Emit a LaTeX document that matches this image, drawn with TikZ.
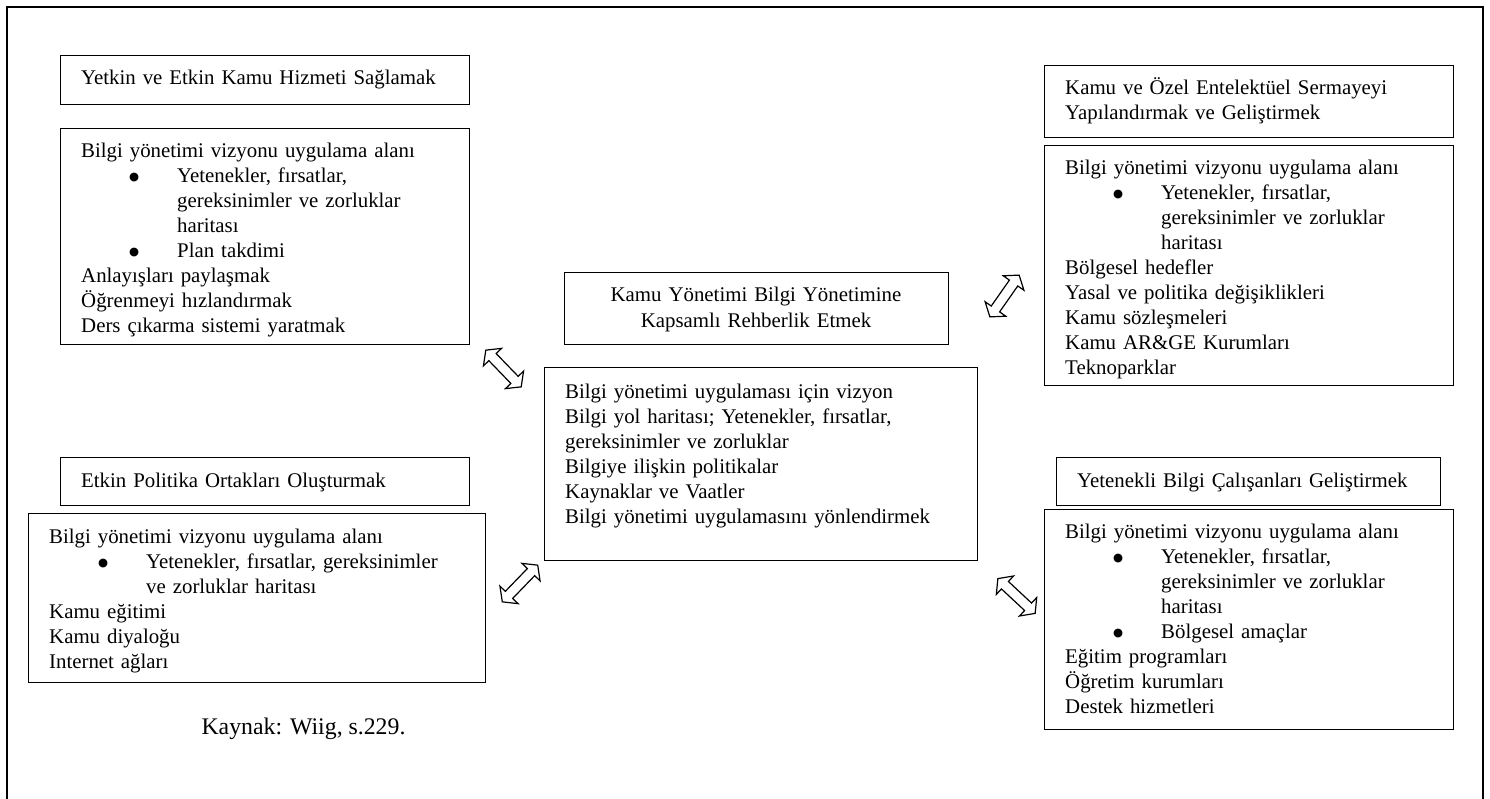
\documentclass[tikz,border=0pt]{standalone}
\usepackage{fontspec}
\setmainfont{Liberation Serif}
\newfontfamily\dejavu{DejaVu Sans}
\usetikzlibrary{shapes.arrows}

% bullet line with hanging indent
\newcommand{\nokta}{\raisebox{2pt}{\dejavu\fontsize{11.5}{12}\selectfont ●}}
\newcommand{\madde}[2][96]{\par\hangindent=#1pt\hangafter=1\makebox[#1pt][l]{\hspace*{\dimexpr#1pt-48pt\relax}\nokta}#2\par}

\tikzset{
  kutu/.style={draw, line width=1.2pt, rectangle, inner sep=0pt, anchor=north west},
  yazi/.style={inner sep=0pt, text width=440pt, align=left, anchor=base west,
    font=\fontsize{20.85}{25}\selectfont},
  okcift/.style={draw, line width=1.2pt, double arrow, inner sep=4.5pt, minimum height=51pt,
    double arrow head extend=7.5pt, double arrow tip angle=105, double arrow head indent=0pt}
}

\begin{document}
\begin{tikzpicture}[x=1pt, y=-1pt]

    % 1. Page and outer frame
    \useasboundingbox (0,0) rectangle (1490,799);
    \draw[line width=1.3pt] (7,799) -- (7,7) -- (1483,7) -- (1483,799);

    % 2. Boxes
    \node[kutu, minimum width=409, minimum height=49]  (baslik1) at (60,55) {};
    \node[kutu, minimum width=409, minimum height=216] (icerik1) at (60,128) {};
    \node[kutu, minimum width=409, minimum height=72]  (baslik2) at (1044,65) {};
    \node[kutu, minimum width=409, minimum height=240] (icerik2) at (1044,145) {};
    \node[kutu, minimum width=384, minimum height=72]  (merkezb) at (564,272) {};
    \node[kutu, minimum width=433, minimum height=193] (merkezi) at (544,367) {};
    \node[kutu, minimum width=409, minimum height=48]  (baslik3) at (60,457) {};
    \node[kutu, minimum width=457, minimum height=169] (icerik3) at (28,513) {};
    \node[kutu, minimum width=384, minimum height=48]  (baslik4) at (1056,457) {};
    \node[kutu, minimum width=409, minimum height=220] (icerik4) at (1044,509) {};

    % 3. Texts, upper left
    \node[yazi] (baslik1y) at (81,85) {Yetkin ve Etkin Kamu Hizmeti Sağlamak};
    \node[yazi] (icerik1y) at (81,158) {Bilgi yönetimi vizyonu uygulama alanı
      \madde{Yetenekler, fırsatlar,\newline gereksinimler ve zorluklar\newline haritası}
      \madde{Plan takdimi}
      Anlayışları paylaşmak\par Öğrenmeyi hızlandırmak\par Ders çıkarma sistemi yaratmak};

    % 4. Texts, upper right
    \node[yazi] (baslik2y) at (1065,95) {Kamu ve Özel Entelektüel Sermayeyi\\Yapılandırmak ve Geliştirmek};
    \node[yazi] (icerik2y) at (1065,175) {Bilgi yönetimi vizyonu uygulama alanı
      \madde{Yetenekler, fırsatlar,\newline gereksinimler ve zorluklar\newline haritası}
      Bölgesel hedefler\par Yasal ve politika değişiklikleri\par Kamu sözleşmeleri\par
      Kamu AR\&GE Kurumları\par Teknoparklar};

    % 5. Texts, centre
    \node[yazi, text width=370pt, align=center, anchor=base] (merkezby) at (756,302)
      {Kamu Yönetimi Bilgi Yönetimine\\Kapsamlı Rehberlik Etmek};
    \node[yazi] (merkeziy) at (565,398) {Bilgi yönetimi uygulaması için vizyon\\
      Bilgi yol haritası; Yetenekler, fırsatlar,\\gereksinimler ve zorluklar\\
      Bilgiye ilişkin politikalar\\Kaynaklar ve Vaatler\\Bilgi yönetimi uygulamasını yönlendirmek};

    % 6. Texts, lower left
    \node[yazi] (baslik3y) at (81,487) {Etkin Politika Ortakları Oluşturmak};
    \node[yazi] (icerik3y) at (49,543) {Bilgi yönetimi vizyonu uygulama alanı
      \madde[97]{Yetenekler, fırsatlar, gereksinimler\newline ve zorluklar haritası}
      Kamu eğitimi\par Kamu diyaloğu\par Internet ağları};

    % 7. Texts, lower right
    \node[yazi] (baslik4y) at (1077,487) {Yetenekli Bilgi Çalışanları Geliştirmek};
    \node[yazi] (icerik4y) at (1065,538) {Bilgi yönetimi vizyonu uygulama alanı
      \madde{Yetenekler, fırsatlar,\newline gereksinimler ve zorluklar\newline haritası}
      \madde{Bölgesel amaçlar}
      Eğitim programları\par Öğretim kurumları\par Destek hizmetleri};

    % 8. Double arrows
    \node[okcift, rotate=-46] (ok1) at (503.5,368.5) {};
    \node[okcift, rotate=55]  (ok2) at (1004.5,296) {};
    \node[okcift, rotate=46]  (ok3) at (520,583.5) {};
    \node[okcift, rotate=-43] (ok4) at (1016.5,596) {};

    % 9. Source
    \node[inner sep=0pt, anchor=base, font=\fontsize{23.8}{28}\selectfont] (kaynak) at (303.5,734)
      {Kaynak: Wiig, s.229.};

\end{tikzpicture}
\end{document}
